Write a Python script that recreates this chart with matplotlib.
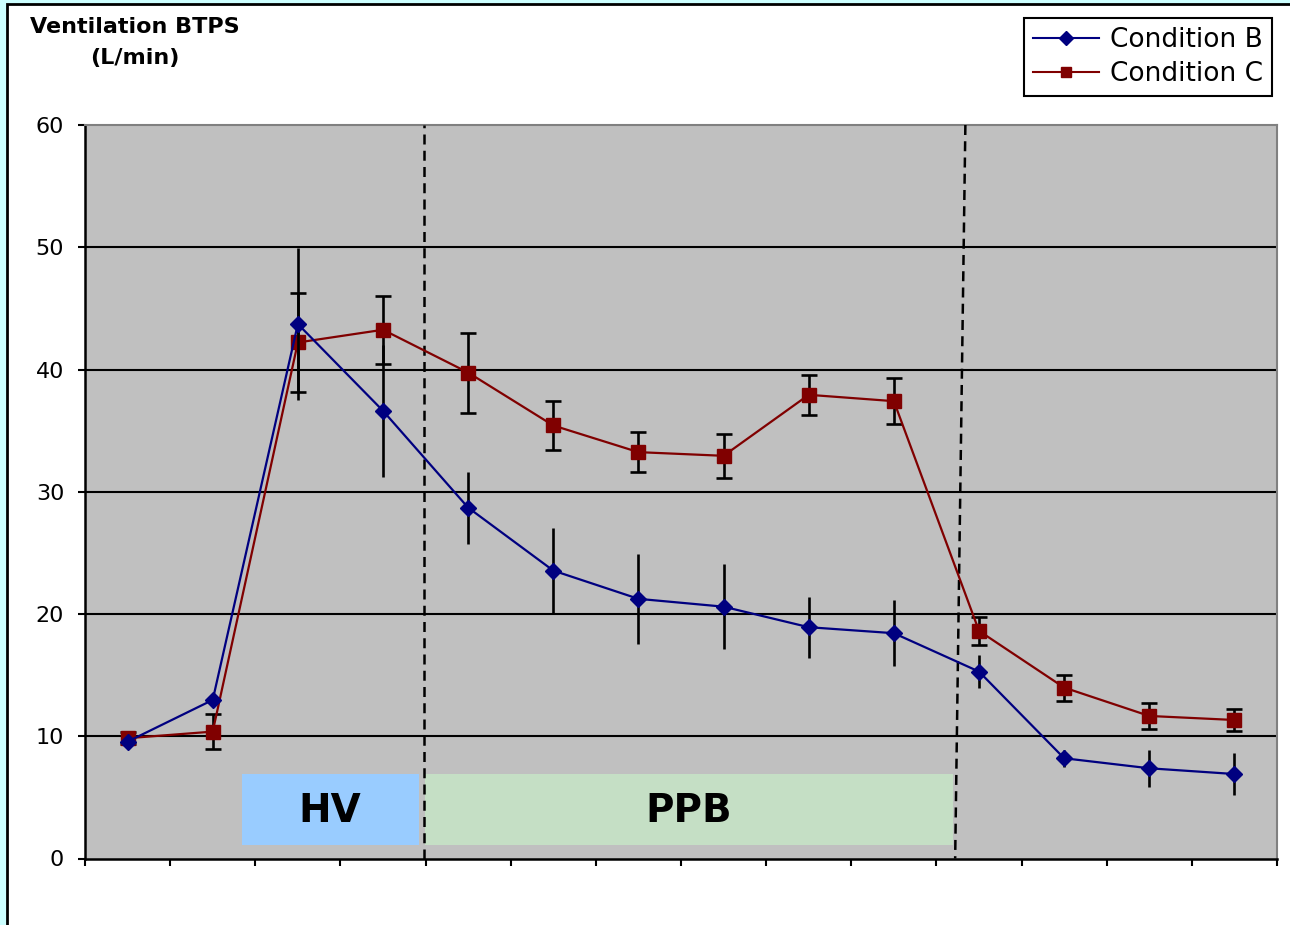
import numpy as np
from matplotlib import pyplot as plt
from matplotlib.patches import Rectangle
from matplotlib.lines import Line2D

# ventilation per time point (14 categories, no x labels)
n_points = 14
cond_b = [9.56, 12.97, 43.72, 36.62, 28.7, 23.55, 21.24, 20.6, 18.92, 18.43,
          15.29, 8.2, 7.38, 6.91]
cond_b_err = [0.3, 0.4, 6.2, 5.4, 2.95, 3.5, 3.7, 3.45, 2.5, 2.7,
              1.37, 0.68, 1.53, 1.68]
cond_c = [9.84, 10.38, 42.21, 43.25, 39.75, 35.42, 33.24, 32.94, 37.93, 37.41,
          18.62, 13.98, 11.66, 11.33]
cond_c_err = [0.5, 1.42, 4.05, 2.8, 3.27, 1.98, 1.66, 1.8, 1.66, 1.9,
              1.15, 1.07, 1.06, 0.9]

# phase boxes: label, x start, x end, colour
phases = [('HV', 1.34, 3.42, '#99CCFF'),
          ('PPB', 3.49, 9.69, '#C5DFC5')]

fig = plt.figure(figsize=(12.9, 9.25), dpi=100)
fig.patch.set_facecolor('#CCFFFF')
fig.patches.append(Rectangle((7 / 1290, -0.1), 1.2, 1 - 4 / 925 + 0.1,
                             transform=fig.transFigure, facecolor='white',
                             edgecolor='black', lw=2, zorder=-10))

ax = fig.add_axes([85 / 1290, 1 - 858.5 / 925, 1192 / 1290, 733.5 / 925])
ax.set_zorder(5)
ax.set_facecolor('#C0C0C0')

x = np.arange(n_points)

for y in range(10, 60, 10):
    ax.axhline(y, color='black', lw=1.5, zorder=1)

for label, x0, x1, col in phases:
    ax.add_patch(Rectangle((x0, 1.1), x1 - x0, 5.8, facecolor=col,
                           edgecolor='none', zorder=2))
    ax.text((x0 + x1) / 2, 3.9, label, ha='center', va='center', fontsize=28,
            fontweight='bold', zorder=3)

ax.plot([3.48, 3.48], [0, 60], color='black', lw=1.8, ls=(0, (4, 2.5)), zorder=3)
ax.plot([9.84, 9.72], [60, 0], color='black', lw=1.8, ls=(0, (4, 2.5)), zorder=3)

ax.errorbar(x, cond_b, yerr=cond_b_err, color='#000080', lw=1.6, marker='D',
            ms=8, ecolor='black', elinewidth=1.9, capsize=0, zorder=5)
ax.errorbar(x, cond_c, yerr=cond_c_err, color='#800000', lw=1.6, marker='s',
            ms=9.5, ecolor='black', elinewidth=1.9, capsize=6, capthick=1.9,
            zorder=4)

ax.set_xlim(-0.5, n_points - 0.5)
ax.set_ylim(0, 60)
ax.set_xticks(np.arange(-0.5, n_points, 1.0))
ax.set_xticklabels([])
ax.set_yticks(range(0, 61, 10))
ax.tick_params(axis='both', direction='out', length=5, width=1.5,
               labelsize=16, pad=10)

for side in ['left', 'bottom']:
    ax.spines[side].set_color('black')
    ax.spines[side].set_linewidth(1.8)
for side in ['top', 'right']:
    ax.spines[side].set_color('#808080')
    ax.spines[side].set_linewidth(1.5)

fig.text(135 / 1290, 1 - 27 / 925, 'Ventilation BTPS', ha='center',
         va='center', fontsize=16, fontweight='bold')
fig.text(135 / 1290, 1 - 58 / 925, '(L/min)', ha='center',
         va='center', fontsize=16, fontweight='bold')

handles = [Line2D([], [], color='#000080', lw=1.5, marker='D', ms=7),
           Line2D([], [], color='#800000', lw=1.5, marker='s', ms=7)]
leg = fig.legend(handles, ['Condition B', 'Condition C'], loc='upper right',
                 bbox_to_anchor=(1272 / 1290, 1 - 18 / 925), fontsize=19,
                 frameon=True, fancybox=False, edgecolor='black',
                 framealpha=1, handlelength=2.5, borderpad=0.35,
                 labelspacing=0.3, handletextpad=0.4, borderaxespad=0)
leg.get_frame().set_linewidth(1.5)

fig.savefig('out.png', dpi=100, facecolor=fig.get_facecolor())
